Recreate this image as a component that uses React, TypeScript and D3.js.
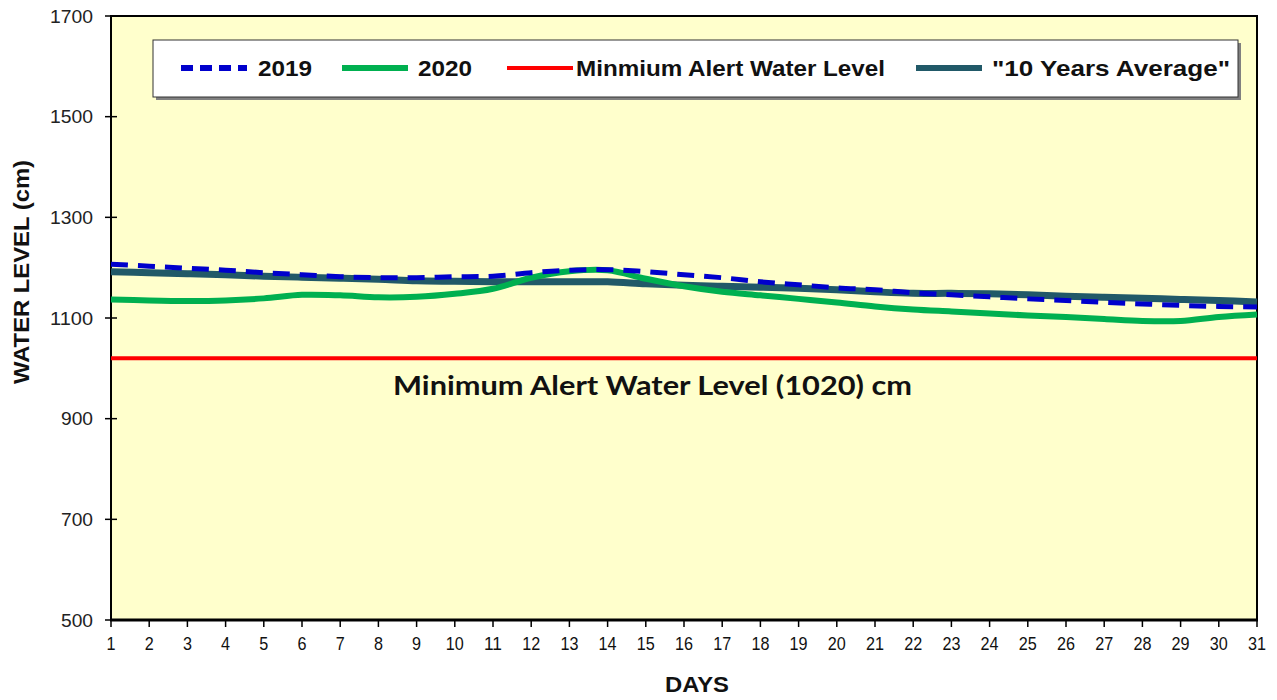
import React from "react";
import * as d3 from "d3";

const days = d3.range(1, 32);
const yTicks = [500, 700, 900, 1100, 1300, 1500, 1700];
const series2019 = [1207, 1203, 1199, 1195, 1190, 1186, 1182, 1180, 1180, 1182, 1183, 1190, 1195, 1196, 1192, 1186, 1180, 1172, 1166, 1160, 1156, 1150, 1146, 1142, 1138, 1135, 1131, 1128, 1125, 1123, 1122];
const series2020 = [1137, 1135, 1134, 1135, 1139, 1146, 1145, 1141, 1142, 1148, 1158, 1180, 1193, 1195, 1178, 1163, 1152, 1145, 1138, 1131, 1123, 1117, 1113, 1109, 1105, 1102, 1098, 1094, 1094, 1102, 1107];
const seriesAvg = [1192, 1190, 1188, 1186, 1183, 1181, 1179, 1177, 1174, 1173, 1172, 1172, 1172, 1172, 1168, 1165, 1163, 1161, 1159, 1156, 1152, 1149, 1149, 1148, 1146, 1143, 1141, 1139, 1137, 1135, 1132];
const alertLevel = 1020;

const legendItems = [
  { label: "2019", color: "#0000CC", dash: "12,7", x: 181, tx: 258, tw: 54 },
  { label: "2020", color: "#00B050", dash: null, x: 342, tx: 418, tw: 54 },
  { label: "Minmium Alert Water Level", color: "#FF0000", dash: null, x: 507, tx: 576, tw: 309 },
  { label: "\"10 Years Average\"", color: "#215968", dash: null, x: 916, tx: 992, tw: 238 },
];

export default function App() {
  const W = 1277, H = 700;
  const left = 111, right = 1257, top = 16, bottom = 620;
  const x = d3.scaleLinear().domain([1, 31]).range([left, right]);
  const y = d3.scaleLinear().domain([500, 1700]).range([bottom, top]);
  const line = d3.line<number>().x((_, i) => x(days[i])).y((d) => y(d)).curve(d3.curveCatmullRom.alpha(0.5));

  return (
    <svg width={W} height={H} style={{ position: "absolute", left: 0, top: 0, fontFamily: "Liberation Sans, Arial, sans-serif" }}>
      <rect x={0} y={0} width={W} height={H} fill="#fff" />
      <rect x={left} y={top} width={right - left} height={bottom - top} fill="#FFFFCC" stroke="#000" strokeWidth={2} />
      {yTicks.map((t) => (
        <g key={t}>
          <line x1={left - 6} x2={left + 6} y1={y(t)} y2={y(t)} stroke="#000" strokeWidth={1.5} />
          <text x={93} y={y(t)} dy="0.35em" textAnchor="end" fontSize={19} fill="#222" textLength={t >= 1000 ? 43 : 32} lengthAdjust="spacingAndGlyphs">{t}</text>
        </g>
      ))}
      {days.map((d) => (
        <g key={d}>
          <line x1={x(d)} x2={x(d)} y1={bottom} y2={bottom + 7} stroke="#000" strokeWidth={1.5} />
          <text x={x(d)} y={650} textAnchor="middle" fontSize={19} fill="#111" textLength={d >= 10 ? 18 : 9} lengthAdjust="spacingAndGlyphs">{d}</text>
        </g>
      ))}
      <line x1={left - 1} x2={right + 1} y1={bottom} y2={bottom} stroke="#000" strokeWidth={3} />
      <text x={697} y={692} textAnchor="middle" fontSize={22} fontWeight="bold" fill="#111" textLength={64} lengthAdjust="spacingAndGlyphs">DAYS</text>
      <text transform={`translate(29,${272}) rotate(-90)`} textAnchor="middle" fontSize={22} fontWeight="bold" fill="#111" textLength={224} lengthAdjust="spacingAndGlyphs">WATER LEVEL (cm)</text>
      <line x1={left} x2={right} y1={y(alertLevel)} y2={y(alertLevel)} stroke="#FF0000" strokeWidth={4} />
      <text x={393} y={395} fontSize={26} fontWeight="bold" fill="#111" fontFamily="Lato, Carlito, sans-serif" textLength={519} lengthAdjust="spacingAndGlyphs">Minimum Alert Water  Level (1020) cm</text>
      <path d={line(seriesAvg) || ""} fill="none" stroke="#215968" strokeWidth={7} />
      <path d={line(series2020) || ""} fill="none" stroke="#00B050" strokeWidth={6} />
      <path d={line(series2019) || ""} fill="none" stroke="#0000CC" strokeWidth={5} strokeDasharray="17,10" />
      <rect x={156} y={43} width={1085} height={57} fill="#808080" />
      <rect x={153} y={40} width={1085} height={57} fill="#fff" stroke="#333" strokeWidth={1} />
      {legendItems.map((it) => (
        <g key={it.label}>
          <line x1={it.x} x2={it.x + 66} y1={68} y2={68} stroke={it.color} strokeWidth={it.label === "Minmium Alert Water Level" ? 4 : 6} strokeDasharray={it.dash || undefined} strokeLinecap="butt" />
          <text x={it.tx} y={68} dy="0.36em" fontSize={22} fontWeight="bold" fill="#111" textLength={it.tw} lengthAdjust="spacingAndGlyphs">{it.label}</text>
        </g>
      ))}
    </svg>
  );
}
